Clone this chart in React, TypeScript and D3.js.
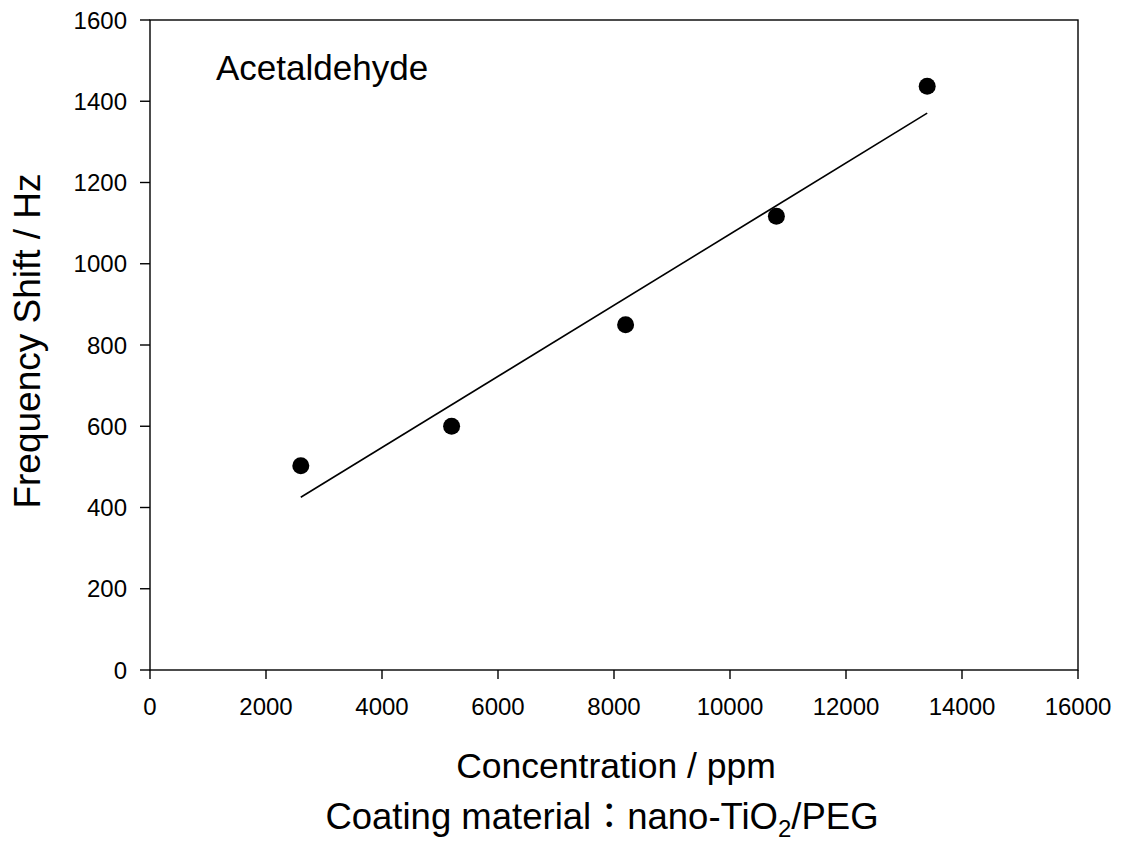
import React from "react";
import * as d3 from "d3";

const concentrations = [2600, 5200, 8200, 10800, 13400];
const freqShift = [503, 600, 850, 1117, 1437];
const xTicks = [0, 2000, 4000, 6000, 8000, 10000, 12000, 14000, 16000];
const yTicks = [0, 200, 400, 600, 800, 1000, 1200, 1400, 1600];

const W = 1123;
const H = 843;
const M = { left: 150, top: 20, right: 1078, bottom: 670 };
const FONT = "'Liberation Sans', Arial, Helvetica, sans-serif";

export default function App() {
  const x = d3.scaleLinear().domain([0, 16000]).range([M.left, M.right]);
  const y = d3.scaleLinear().domain([0, 1600]).range([M.bottom, M.top]);

  const mx = d3.mean(concentrations)!;
  const my = d3.mean(freqShift)!;
  let sxy = 0;
  let sxx = 0;
  concentrations.forEach((c, i) => {
    sxy += (c - mx) * (freqShift[i] - my);
    sxx += (c - mx) * (c - mx);
  });
  const slope = sxy / sxx;
  const intercept = my - slope * mx;
  const x0 = d3.min(concentrations)!;
  const x1 = d3.max(concentrations)!;
  const line = d3
    .line<number>()
    .x((d) => x(d))
    .y((d) => y(intercept + slope * d));

  return (
    <svg
      width={W}
      height={H}
      style={{ position: "absolute", left: 0, top: 0, background: "#fff" }}
      fontFamily={FONT}
    >
      <rect x={M.left} y={M.top} width={M.right - M.left} height={M.bottom - M.top} fill="none" stroke="#000" strokeWidth={1.4} />
      {xTicks.map((t) => (
        <g key={"x" + t}>
          <line x1={x(t)} x2={x(t)} y1={M.bottom} y2={M.bottom + 9} stroke="#000" strokeWidth={1.4} />
          <text x={x(t)} y={715} fontSize={24} textAnchor="middle" fill="#000">
            {t}
          </text>
        </g>
      ))}
      {yTicks.map((t) => (
        <g key={"y" + t}>
          <line x1={M.left - 10} x2={M.left} y1={y(t)} y2={y(t)} stroke="#000" strokeWidth={1.4} />
          <text x={127} y={y(t) + 8.5} fontSize={24} textAnchor="end" fill="#000">
            {t}
          </text>
        </g>
      ))}
      <path d={line([x0, x1]) || ""} fill="none" stroke="#000" strokeWidth={1.6} />
      {concentrations.map((c, i) => (
        <circle key={c} cx={x(c)} cy={y(freqShift[i])} r={8.5} fill="#000" />
      ))}
      <text x={216} y={80} fontSize={35} fill="#000">
        Acetaldehyde
      </text>
      <text x={616} y={778} fontSize={35.5} textAnchor="middle" fill="#000">
        Concentration / ppm
      </text>
      <text x={602} y={829} fontSize={36.5} textAnchor="middle" fill="#000">
        Coating material
        <tspan fontFamily="'Noto Sans CJK TC', 'Noto Sans CJK SC', sans-serif" fontSize={36}>：</tspan>
        nano-TiO
        <tspan fontSize={24} dy={8}>2</tspan>
        <tspan dy={-8}>/PEG</tspan>
      </text>
      <text
        transform={`translate(40,341) rotate(-90)`}
        fontSize={37}
        textAnchor="middle"
        fill="#000"
      >
        Frequency Shift / Hz
      </text>
    </svg>
  );
}
